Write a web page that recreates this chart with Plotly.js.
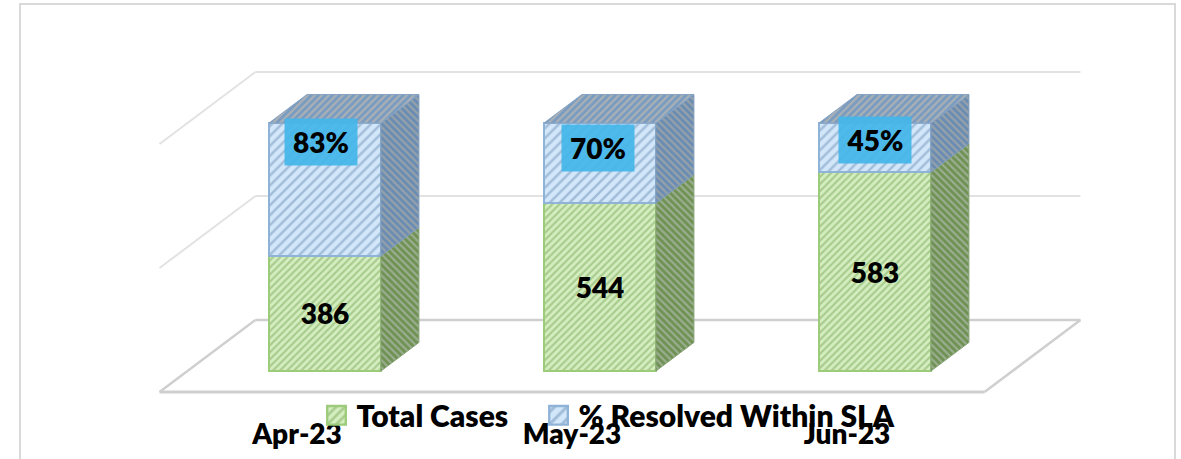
<!DOCTYPE html>
<html>
<head>
<meta charset="utf-8">
<script src="https://cdn.plot.ly/plotly-3.0.1.min.js"></script>
<style>html,body{margin:0;padding:0;background:#fff;overflow:hidden}</style>
</head>
<body>
<div id="chart" style="width:1181px;height:459px"></div>
<script>
// ---- data ----
const categories = ['Apr-23', 'May-23', 'Jun-23'];
const totalCasesShare = [46.4, 67.7, 80.2];   // stacked share drawn, %
const resolvedShare = [53.6, 32.3, 19.8];     // stacked share drawn, %
const totalCasesLabels = ['386', '544', '583'];
const resolvedLabels = ['83%', '70%', '45%'];
const gridValues = [0, 50, 100];

// ---- drawing settings ----
const W = 1181, H = 459, MB = 44;
const xPx = 275, x0Px = 325, yPx = 2.48, y0Px = 371;   // pixels per unit, origin
const barWidth = 0.407;
const kx = 0.138, ky = 11.5;      // oblique shift for one unit of depth
const wallDepth = 1.79, floorDepth = -0.737;
const labelY = [92.3, 90.1, 93.1];          // where the % boxes sit on the stack
const labelShiftX = [-0.0145, -0.007, 0];
const font = 'Lato, "Open Sans", sans-serif';

const xs = categories.map((_, i) => i);
const px = (x, v, d) => [x + d * kx, v + d * ky];

function poly(points, name, bg, fg, shape, lineColor) {
  const p = points.map(q => px(q[0], q[1], q[2]));
  p.push(p[0]);
  return {
    type: 'scatter', mode: 'lines', x: p.map(q => q[0]), y: p.map(q => q[1]),
    fill: 'toself', fillcolor: bg,
    fillpattern: {shape: shape, bgcolor: bg, fgcolor: fg, size: 5, solidity: 0.45, fillmode: 'replace'},
    line: {color: lineColor, width: 1}, showlegend: false, hoverinfo: 'skip', name: name
  };
}

const hw = barWidth / 2;
const faces = [];
xs.forEach((x, i) => {
  const g = totalCasesShare[i], t = g + resolvedShare[i];
  faces.push(poly([[x+hw,0,0],[x+hw,0,1],[x+hw,g,1],[x+hw,g,0]], 'side', '#6f9152', '#9aae90', '\\', '#86a374'));
  faces.push(poly([[x+hw,g,0],[x+hw,g,1],[x+hw,t,1],[x+hw,t,0]], 'side', '#6a8cb2', '#95a1ab', '\\', '#7f9dbd'));
  faces.push(poly([[x-hw,t,0],[x+hw,t,0],[x+hw,t,1],[x-hw,t,1]], 'top', '#7a9bc0', '#a9b1b6', '/', '#86a3c3'));
});

const barGreen = {
  type: 'bar', name: 'Total Cases', x: xs, y: totalCasesShare, width: barWidth,
  text: totalCasesLabels, textposition: 'inside', insidetextanchor: 'middle', textangle: 0,
  textfont: {family: font, size: 28, color: '#000', weight: 800},
  marker: {color: '#cbe6b4', line: {color: '#9ccb7a', width: 1.5},
    pattern: {shape: '/', bgcolor: '#d4eebf', fgcolor: '#a8cb8e', size: 5, solidity: 0.42, fillmode: 'replace'}},
  hoverinfo: 'skip'
};
const barBlue = {
  type: 'bar', name: '% Resolved Within SLA', legend: 'legend2', x: xs, y: resolvedShare, width: barWidth,
  marker: {color: '#cfe4f8', line: {color: '#8fb3d6', width: 1.5},
    pattern: {shape: '/', bgcolor: '#d3e7fa', fgcolor: '#a2bdd9', size: 7, solidity: 0.36, fillmode: 'replace'}},
  hoverinfo: 'skip'
};

// walls and floor
const gridShape = (a, b, color, width) => {
  const p = px(a[0], a[1], a[2]), q = px(b[0], b[1], b[2]);
  return {type: 'line', layer: 'below', xref: 'x', yref: 'y', x0: p[0], y0: p[1], x1: q[0], y1: q[1], line: {color, width}};
};
const xMin = -0.5, xMax = xs.length - 0.5;
const shapes = [
  {type: 'rect', layer: 'below', xref: 'paper', yref: 'paper', x0: 20 / W, x1: 1175 / W,
   y0: -0.3, y1: (H - MB - 4) / (H - MB), line: {color: '#d9d9d9', width: 2}}
];
gridValues.forEach(v => {
  const c = v === 0 ? '#cfcfcf' : '#e2e2e2', w = v === 0 ? 2.5 : 2;
  shapes.push(gridShape([xMin, v, wallDepth], [xMax, v, wallDepth], c, w));
  shapes.push(gridShape([xMin, v, floorDepth], [xMin, v, wallDepth], c, w));
});
shapes.push(gridShape([xMin, 0, floorDepth], [xMax, 0, floorDepth], '#cfcfcf', 3));
shapes.push(gridShape([xMax, 0, floorDepth], [xMax, 0, wallDepth], '#cfcfcf', 2.5));

const annotations = xs.map((x, i) => ({
  xref: 'x', yref: 'y', x: x + labelShiftX[i], y: labelY[i],
  text: resolvedLabels[i], showarrow: false, width: 72, height: 46, align: 'center', valign: 'middle',
  bgcolor: 'rgba(68,182,234,0.93)', borderpad: 0,
  font: {family: font, size: 28, color: '#000', weight: 800}
}));

const legendBase = {orientation: 'h', xanchor: 'left', y: 0.062, yanchor: 'top', bgcolor: 'rgba(0,0,0,0)',
  font: {family: font, size: 30, color: '#000', weight: 800}};

const layout = {
  width: W, height: H, showlegend: true, barmode: 'stack',
  margin: {l: 0, r: 0, t: 0, b: MB, pad: 0},
  paper_bgcolor: '#fff', plot_bgcolor: 'rgba(0,0,0,0)',
  xaxis: {range: [-x0Px / xPx, (W - x0Px) / xPx], tickmode: 'array',
    tickvals: xs.map(x => x + floorDepth * kx), ticktext: categories,
    showgrid: false, zeroline: false, showline: false, ticks: '', fixedrange: true,
    tickfont: {family: font, size: 28, color: '#000', weight: 800}, tickangle: 0, automargin: false},
  yaxis: {range: [(y0Px - (H - MB)) / yPx, y0Px / yPx], visible: false, showgrid: false, zeroline: false, fixedrange: true},
  legend: Object.assign({}, legendBase, {x: 0.268}),
  legend2: Object.assign({}, legendBase, {x: 0.456}),
  shapes, annotations
};
Plotly.newPlot('chart', [barGreen, barBlue].concat(faces), layout, {displayModeBar: false, staticPlot: true}).then(() => {
  document.querySelectorAll('.legendpoints path').forEach(p => {
    p.setAttribute('transform', (p.getAttribute('transform') || '') + ' scale(1.55)');
  });
});
</script>
</body>
</html>
